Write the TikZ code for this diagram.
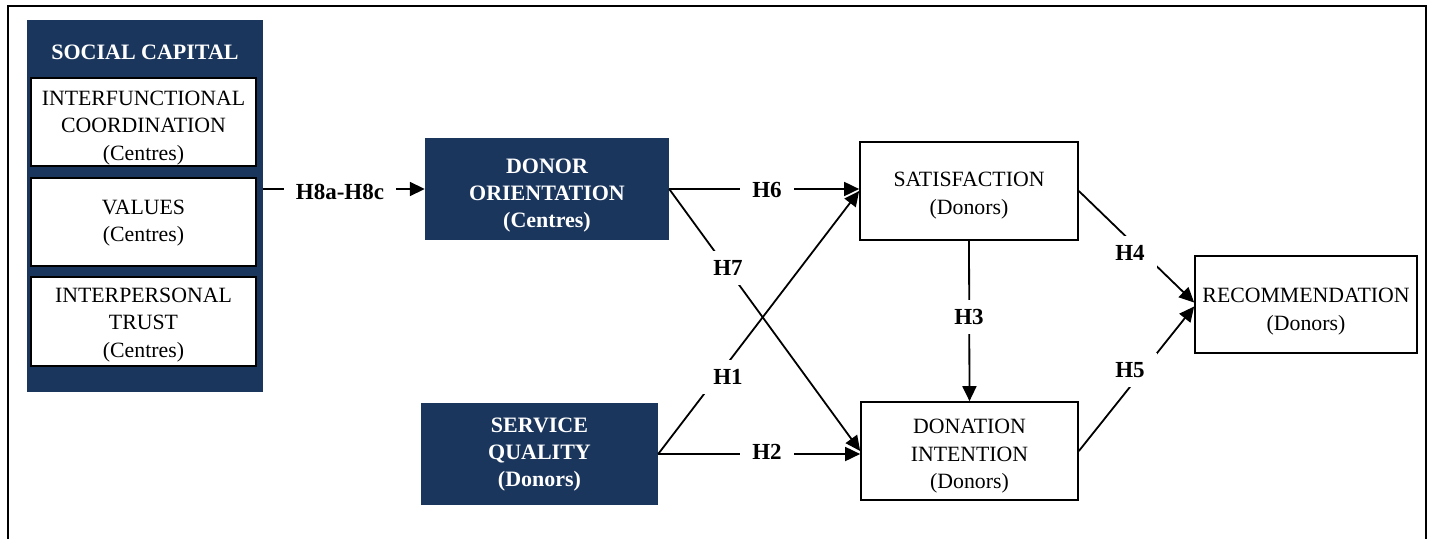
\documentclass[tikz,border=0pt]{standalone}
\usepackage{fontspec}
\setmainfont{Liberation Serif}
\usetikzlibrary{arrows.meta}
\definecolor{navy}{RGB}{27,54,93}
\newcommand\tup[1]{\rule{0pt}{#1}}
\begin{document}
\begin{tikzpicture}[x=1pt,y=-1pt,
 reg/.style={font=\fontsize{21.8}{27.5}\selectfont, align=center},
 wbox/.style={reg, draw=black, line width=1.7pt, fill=white, inner sep=0pt},
 dbox/.style={font=\fontsize{22}{27}\selectfont\bfseries, text=white, fill=navy, align=center, inner sep=0pt},
 hyp/.style={font=\fontsize{23}{27}\selectfont\bfseries, fill=white, inner xsep=12pt, inner ysep=9pt},
 conn/.style={line width=1.8pt, -{Triangle[length=15pt,width=14pt]}},
 frame/.style={line width=2pt}
]
\useasboundingbox (0,0) rectangle (1429,538);
\draw[frame] (8,545) -- (8,6) -- (1426,6) -- (1426,545);

\node[dbox, minimum width=236pt, minimum height=372pt] (sc) at (145,206) {};
\node[dbox] (sctitle) at (145,52) {SOCIAL CAPITAL};
\node[wbox, minimum width=225pt, minimum height=88pt] (ifc) at (143.5,122) {\tup{26.4pt}INTERFUNCTIONAL\\COORDINATION\\(Centres)};
\node[wbox, minimum width=225pt, minimum height=88pt] (val) at (143.5,222) {\tup{17pt}VALUES\\(Centres)};
\node[wbox, minimum width=225pt, minimum height=89pt] (trust) at (143.5,321.5) {\tup{21.4pt}INTERPERSONAL\\TRUST\\(Centres)};

\node[dbox, minimum width=244pt, minimum height=102pt] (do) at (547,189) {\tup{26.9pt}DONOR\\ORIENTATION\\(Centres)};
\node[dbox, minimum width=237pt, minimum height=102pt] (sq) at (539.5,454) {\tup{16.5pt}SERVICE\\QUALITY\\(Donors)};
\node[wbox, minimum width=218pt, minimum height=98pt] (sat) at (969,191) {\tup{23.4pt}SATISFACTION\\(Donors)};
\node[wbox, minimum width=217pt, minimum height=98pt] (di) at (969.5,451) {\tup{25.4pt}DONATION\\INTENTION\\(Donors)};
\node[wbox, minimum width=222pt, minimum height=97pt] (rec) at (1306,304.5) {\tup{28.4pt}RECOMMENDATION\\(Donors)};

\draw[conn] (do.west -| sc.east) -- (do.west);
\draw[conn] (do.east) -- (do.east -| sat.west);
\draw[conn] (do.east) -- (di.west);
\draw[conn] (sq.east) -- (sat.west);
\draw[conn] (sq.east) -- (sq.east -| di.west);
\draw[conn] (sat.south) -- (di.north);
\draw[conn] (sat.east) -- ([yshift=2pt]rec.west);
\draw[conn] (di.east) -- ([yshift=-2pt]rec.west);

\node[hyp] (h8) at (340,192) {H8a-H8c};
\node[hyp] (h6) at (767,190) {H6};
\node[hyp] (h7) at (728,268) {H7};
\node[hyp] (h1) at (728,377) {H1};
\node[hyp] (h2) at (767,452) {H2};
\node[hyp] (h3) at (969,317) {H3};
\node[hyp] (h4) at (1130,253) {H4};
\node[hyp] (h5) at (1130,370) {H5};
\end{tikzpicture}
\end{document}
